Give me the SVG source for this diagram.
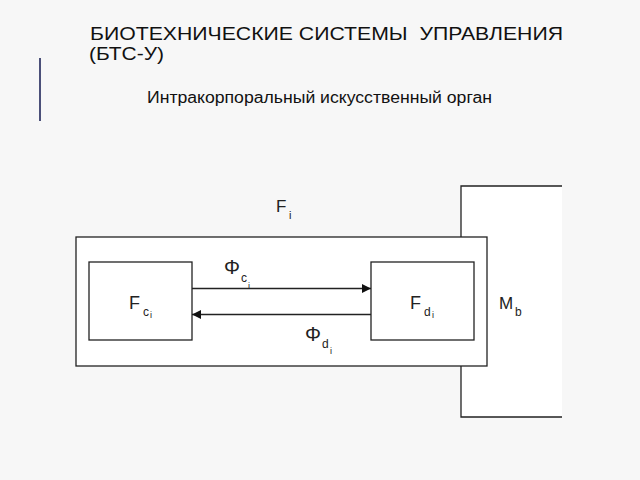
<svg xmlns="http://www.w3.org/2000/svg" width="640" height="480" viewBox="0 0 640 480">
<defs>
<style>
.t{font-family:"Liberation Sans",Arial,sans-serif;fill:#111;white-space:pre}
.lbl{font-family:"Liberation Sans",Arial,sans-serif;fill:#222}
.box{fill:#ffffff;stroke:#222;stroke-width:1.3}
.ln{stroke:#222;stroke-width:1.3;fill:none}
</style>
<marker id="ah" viewBox="0 0 10 10" refX="10" refY="5" markerWidth="10" markerHeight="9" markerUnits="userSpaceOnUse" orient="auto">
<path d="M0,0 L10,5 L0,10 z" fill="#111"/>
</marker>
</defs>
<rect width="640" height="480" fill="#f7f7f7"/>
<line x1="40" y1="58" x2="40" y2="121" stroke="#4b5079" stroke-width="2"/>
<text class="t" x="90" y="39.5" font-size="18" textLength="473" lengthAdjust="spacingAndGlyphs" xml:space="preserve">БИОТЕХНИЧЕСКИЕ СИСТЕМЫ  УПРАВЛЕНИЯ</text>
<text class="t" x="89" y="60" font-size="18" textLength="75" lengthAdjust="spacingAndGlyphs">(БТС-У)</text>
<text class="t" x="147" y="103" font-size="16" textLength="345" lengthAdjust="spacingAndGlyphs">Интракорпоральный искусственный орган</text>
<g id="Mb">
<rect x="461" y="186" width="101" height="231" fill="#ffffff"/>
<path class="ln" d="M562,186 H461 V417 H562"/>
<text class="lbl" x="499" y="309" font-size="17">M</text>
<text class="lbl" x="515" y="316" font-size="12">b</text>
</g>
<g id="Fi">
<rect class="box" x="76" y="237" width="411" height="129"/>
<text class="lbl" x="276" y="212" font-size="17">F</text>
<text class="lbl" x="289" y="219" font-size="11">i</text>
</g>
<g id="Fci">
<rect class="box" x="89" y="262" width="103" height="78"/>
<text class="lbl" x="129" y="309" font-size="18">F</text>
<text class="lbl" x="143" y="316" font-size="12">c</text>
<text class="lbl" x="150" y="318" font-size="9">i</text>
</g>
<g id="Fdi">
<rect class="box" x="371" y="262" width="103" height="78"/>
<text class="lbl" x="410" y="309" font-size="18">F</text>
<text class="lbl" x="424" y="316" font-size="12">d</text>
<text class="lbl" x="432" y="318" font-size="9">i</text>
</g>
<g id="connectors">
<line class="ln" x1="192" y1="288.5" x2="371" y2="288.5" marker-end="url(#ah)"/>
<line class="ln" x1="371" y1="314.5" x2="192" y2="314.5" marker-end="url(#ah)"/>
<text class="lbl" x="224" y="274" font-size="20">Φ</text>
<text class="lbl" x="241" y="282" font-size="12">c</text>
<text class="lbl" x="248" y="289" font-size="9">i</text>
<text class="lbl" x="305" y="341" font-size="20">Φ</text>
<text class="lbl" x="322" y="348" font-size="12">d</text>
<text class="lbl" x="330" y="354" font-size="9">i</text>
</g>
</svg>
